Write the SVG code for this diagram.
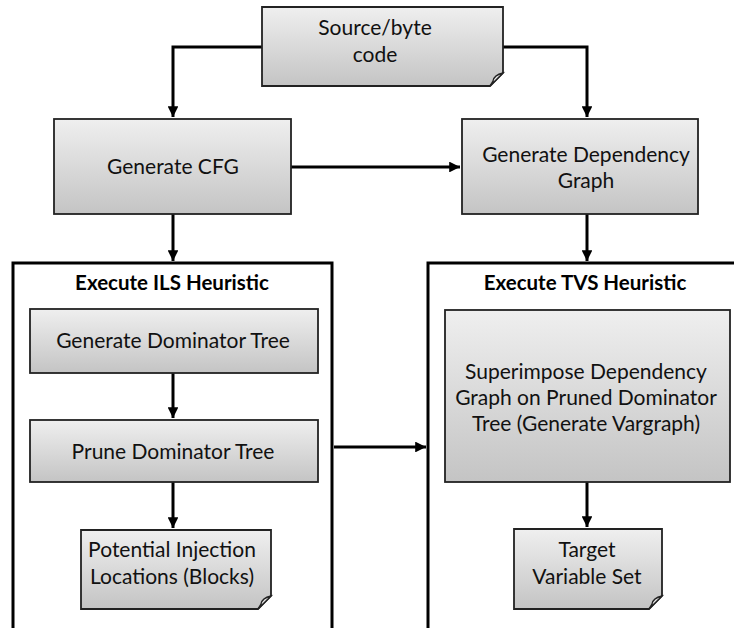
<svg xmlns="http://www.w3.org/2000/svg" width="734" height="628" viewBox="0 0 734 628">
  <style>
    .box { fill: url(#grad); stroke: #222; stroke-width: 1.8; }
    .fold { fill: url(#foldgrad); stroke: #222; stroke-width: 1.4; }
    .frame { fill: none; stroke: #000; stroke-width: 3; }
    .lbl { font-family: Lato, "Open Sans", "Liberation Sans", sans-serif; font-size: 21px; fill: #111; text-anchor: middle; }
    .ttl { font-family: Lato, "Open Sans", "Liberation Sans", sans-serif; font-size: 20.5px; font-weight: bold; fill: #000; text-anchor: middle; }
    .conn { fill: none; stroke: #000; stroke-width: 3; }
  </style>
  <defs>
    <linearGradient id="grad" x1="0" y1="0" x2="0" y2="1">
      <stop offset="0" stop-color="#efefef"/>
      <stop offset="1" stop-color="#c4c4c4"/>
    </linearGradient>
    <linearGradient id="foldgrad" x1="0" y1="0" x2="1" y2="1">
      <stop offset="0" stop-color="#ffffff"/>
      <stop offset="1" stop-color="#cfcfcf"/>
    </linearGradient>
    <marker id="arrow" viewBox="0 0 10 10" refX="10" refY="5" markerWidth="3.6" markerHeight="3.6" orient="auto" markerUnits="strokeWidth">
      <path d="M0,0 L10,5 L0,10 Z" fill="#000"/>
    </marker>
  </defs>

  <!-- heuristic containers (open at the bottom) -->
  <g id="ils">
    <path class="frame" d="M13,628 V263 H332 V628"/>
    <text class="ttl" x="172" y="290">Execute ILS Heuristic</text>
  </g>
  <g id="tvs">
    <path class="frame" d="M428,628 V263 H734"/>
    <text class="ttl" x="585" y="290">Execute TVS Heuristic</text>
  </g>

  <!-- connectors -->
  <g id="connectors">
    <path class="conn" d="M262,47 H173 V117" marker-end="url(#arrow)"/>
    <path class="conn" d="M503,47 H587 V117" marker-end="url(#arrow)"/>
    <path class="conn" d="M291,167 H460" marker-end="url(#arrow)"/>
    <path class="conn" d="M173,214 V261" marker-end="url(#arrow)"/>
    <path class="conn" d="M587,214 V261" marker-end="url(#arrow)"/>
    <path class="conn" d="M173,373 V418" marker-end="url(#arrow)"/>
    <path class="conn" d="M173,482 V528" marker-end="url(#arrow)"/>
    <path class="conn" d="M334,447 H426" marker-end="url(#arrow)"/>
    <path class="conn" d="M587,482 V527" marker-end="url(#arrow)"/>
  </g>

  <!-- source document -->
  <g id="source">
    <path class="box" d="M262,7 H503 V73 L490,86 H262 Z"/>
    <path class="fold" d="M503,73 Q494,75 493,81 L490,86 Z"/>
    <text class="lbl" x="375" y="35">Source/byte</text>
    <text class="lbl" x="375" y="62">code</text>
  </g>

  <g id="cfg">
    <rect class="box" x="54" y="119" width="237" height="95"/>
    <text class="lbl" x="173" y="174">Generate CFG</text>
  </g>

  <g id="depgraph">
    <rect class="box" x="462" y="119" width="236" height="95"/>
    <text class="lbl" x="586" y="162">Generate Dependency</text>
    <text class="lbl" x="586" y="188">Graph</text>
  </g>

  <g id="domtree">
    <rect class="box" x="30" y="309" width="288" height="64"/>
    <text class="lbl" x="173" y="348">Generate Dominator Tree</text>
  </g>

  <g id="prune">
    <rect class="box" x="30" y="420" width="288" height="62"/>
    <text class="lbl" x="173" y="459">Prune  Dominator Tree</text>
  </g>

  <g id="locations">
    <path class="box" d="M81,530 H271 V596 L258,609 H81 Z"/>
    <path class="fold" d="M271,596 Q262,598 261,604 L258,609 Z"/>
    <text class="lbl" x="172" y="557">Potential Injection</text>
    <text class="lbl" x="172" y="584">Locations (Blocks)</text>
  </g>

  <g id="superimpose">
    <rect class="box" x="445" y="310" width="285" height="172"/>
    <text class="lbl" x="586" y="379">Superimpose  Dependency</text>
    <text class="lbl" x="586" y="405">Graph on Pruned Dominator</text>
    <text class="lbl" x="586" y="431">Tree (Generate Vargraph)</text>
  </g>

  <g id="targetset">
    <path class="box" d="M514,529 H662 V596 L649,609 H514 Z"/>
    <path class="fold" d="M662,596 Q653,598 652,604 L649,609 Z"/>
    <text class="lbl" x="587" y="557">Target</text>
    <text class="lbl" x="587" y="584">Variable Set</text>
  </g>
</svg>
